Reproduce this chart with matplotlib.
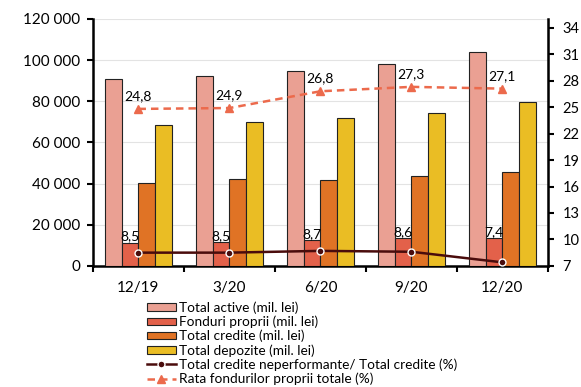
import matplotlib
matplotlib.use("Agg")
import matplotlib.pyplot as plt
import matplotlib.ticker as mticker
import numpy as np

plt.rc('font', family='Lato')

# data
categories = ["12/19", "3/20", "6/20", "9/20", "12/20"]
total_active = [90700, 92500, 94600, 98300, 103800]
fonduri_proprii = [11300, 11500, 12600, 13400, 13600]
total_credite = [40300, 42100, 41600, 43700, 45700]
total_depozite = [68400, 70000, 71900, 74300, 79700]
npl_ratio = [8.5, 8.5, 8.7, 8.6, 7.4]
rata_fonduri = [24.8, 24.9, 26.8, 27.3, 27.1]

bar_labels = ["Total active (mil. lei)", "Fonduri proprii (mil. lei)",
              "Total credite (mil. lei)", "Total depozite (mil. lei)"]
npl_label = "Total credite neperformante/ Total credite (%)"
rata_label = "Rata fondurilor proprii totale (%)"

bar_colors = ["#eaa093", "#e3614a", "#e07325", "#eabd24"]
npl_color = "#4a0c0c"
rata_color = "#ec6a4c"

#------------------------------------------------------------------------------#

fig = plt.figure(figsize=(5.81, 3.87), dpi=100)
ax = fig.add_axes([0.160, 0.313, 0.783, 0.638])
ax2 = ax.twinx()

x = np.arange(len(categories))
w = 0.183
series = [total_active, fonduri_proprii, total_credite, total_depozite]
for i, (vals, lab, clr) in enumerate(zip(series, bar_labels, bar_colors)):
    ax.bar(x + (i - 1.5) * w, vals, width=w, color=clr, edgecolor="#222222",
           linewidth=0.8, label=lab, zorder=3)

ax.set_ylim(0, 120000)
ax.set_yticks(np.arange(0, 120001, 20000))
ax.yaxis.set_major_formatter(mticker.FuncFormatter(
    lambda v, p: "{:,.0f}".format(v).replace(",", " ")))
ax.set_xlim(-0.5, len(categories) - 0.5)
ax.set_xticks(x)
ax.set_xticklabels(categories)
ax.set_xticks(np.arange(-0.5, len(categories)), minor=True)
ax.tick_params(axis='x', which='major', length=0, labelsize=11, pad=11)
ax.tick_params(axis='x', which='minor', length=4, width=1.5)
ax.tick_params(axis='y', labelsize=11, length=4, width=1.5, pad=5)
ax.grid(True, axis='y', color="#e3e3e3", linewidth=0.8, zorder=0)
ax.set_axisbelow(True)

for s in ["left", "bottom"]:
    ax.spines[s].set_linewidth(1.8)
ax.spines["top"].set_visible(False)
ax2.spines["top"].set_visible(False)
ax2.spines["right"].set_linewidth(1.8)
ax2.spines["left"].set_visible(False)
ax2.spines["bottom"].set_visible(False)

# lines on the right axis
ax2.plot(x, npl_ratio, color=npl_color, linewidth=1.8, marker='o',
         markersize=5, markerfacecolor=npl_color, markeredgecolor="white",
         markeredgewidth=1.0, label=npl_label, zorder=5)
ax2.plot(x, rata_fonduri, color=rata_color, linewidth=1.8, linestyle=(0, (3, 2)),
         marker='^', markersize=5.5, label=rata_label, zorder=5)

ax2.set_ylim(7, 35)
ax2.set_yticks(np.arange(7, 35, 3))
ax2.tick_params(axis='y', labelsize=10.5, length=4, width=1.5, pad=6.5)

def fmt(v):
    return ("%.1f" % v).replace(".", ",")

for xi, v in zip(x, rata_fonduri):
    ax2.annotate(fmt(v), (xi, v), xytext=(0, 5), textcoords="offset points",
                 ha='center', va='bottom', fontsize=10)
# npl labels sit on top of the "fonduri proprii" bars
for xi, v, top in zip(x, npl_ratio, fonduri_proprii):
    ax.annotate(fmt(v), (xi - w / 2, top), xytext=(0, 0), textcoords="offset points",
                ha='center', va='bottom', fontsize=10, zorder=6)

h1, l1 = ax.get_legend_handles_labels()
h2, l2 = ax2.get_legend_handles_labels()
fig.legend(h1 + h2, l1 + l2, loc='upper left', bbox_to_anchor=(0.243, 0.235),
           frameon=False, fontsize=9.8, handlelength=2.15, handleheight=0.5,
           handletextpad=0.2, labelspacing=0.12, borderaxespad=0)

fig.savefig("out.png", dpi=100)
